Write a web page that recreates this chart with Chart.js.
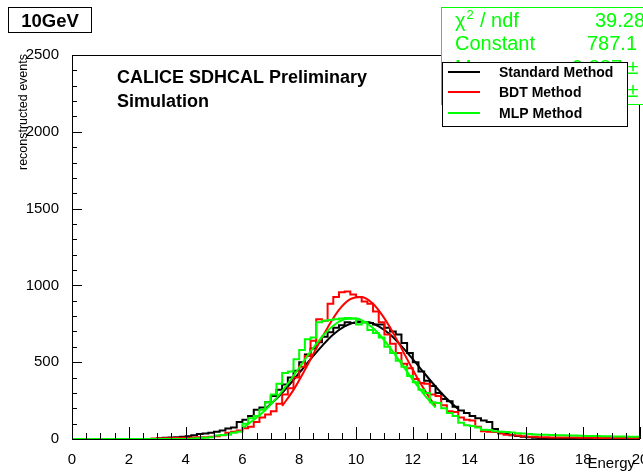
<!DOCTYPE html>
<html>
<head>
<meta charset="utf-8">
<script src="https://cdn.jsdelivr.net/npm/chart.js@4.4.0/dist/chart.umd.min.js"></script>
<style>
html, body { margin: 0; padding: 0; background: #fff; }
canvas { display: block; }
</style>
</head>
<body>
<canvas id="c" width="643" height="475"></canvas>
<script>
// histogram binning: 100 bins of 0.2 GeV from 0 to 20
const binStart = 0;
const binWidth = 0.2;

const standardCounts = [
  0, 0, 0, 0, 0, 0, 0, 0, 0, 0, 0, 0, 0, 0, 0, 0, 5, 8, 10, 12,
  15, 18, 25, 32, 35, 40, 48, 55, 68, 75, 110, 125, 150, 190, 205, 240, 280, 320, 355, 400,
  445, 500, 550, 590, 630, 665, 695, 725, 740, 760, 755, 765, 760, 755, 745, 745, 725, 700, 680, 625,
  560, 500, 440, 380, 345, 300, 260, 245, 210, 185, 170, 150, 135, 120, 110, 65, 45, 35, 25, 20,
  15, 12, 8, 6, 5, 4, 3, 3, 3, 2, 2, 2, 2, 1, 1, 1, 1, 1, 1, 1
];
const bdtCounts = [
  0, 0, 0, 0, 0, 0, 0, 0, 0, 0, 0, 0, 0, 0, 0, 3, 4, 5, 5, 6,
  8, 8, 10, 12, 12, 15, 18, 25, 40, 48, 55, 70, 80, 110, 140, 160, 180, 230, 290, 330,
  400, 470, 540, 640, 780, 770, 880, 925, 955, 960, 940, 925, 895, 880, 830, 760, 680, 620, 560, 490,
  460, 390, 365, 360, 290, 280, 220, 180, 175, 140, 125, 120, 80, 50, 48, 45, 35, 28, 26, 22,
  18, 15, 15, 12, 12, 10, 10, 10, 9, 9, 8, 8, 8, 7, 7, 7, 6, 6, 6, 6
];
const mlpCounts = [
  0, 0, 0, 0, 0, 0, 0, 0, 0, 0, 0, 0, 0, 0, 0, 0, 0, 0, 0, 0,
  0, 0, 3, 5, 8, 12, 22, 26, 28, 40, 48, 100, 135, 150, 190, 240, 290, 360, 430, 440,
  520, 580, 650, 660, 760, 770, 775, 780, 785, 787, 785, 745, 760, 710, 690, 660, 600, 560, 510, 470,
  410, 370, 320, 300, 240, 235, 200, 170, 150, 105, 90, 85, 75, 60, 58, 50, 48, 45, 42, 38,
  35, 32, 30, 28, 27, 26, 25, 24, 23, 22, 21, 20, 20, 19, 18, 18, 17, 16, 16, 15
];

// gaussian fit curves
const standardFitE = [6.8, 7.2, 7.6, 8.0, 8.4, 8.8, 9.2, 9.6, 10.0, 10.4, 10.8, 11.2, 11.6, 12.0, 12.4, 12.8, 13.2, 13.6];
const standardFitN = [195, 262, 342, 430, 520, 605, 680, 733, 760, 762, 733, 680, 605, 520, 430, 342, 262, 195];
const bdtFitE = [7.4, 7.8, 8.2, 8.6, 9.0, 9.4, 9.8, 10.2, 10.6, 11.0, 11.4, 11.8, 12.2, 12.6, 12.8];
const bdtFitN = [215, 320, 450, 590, 725, 840, 910, 925, 880, 785, 660, 520, 385, 265, 215];
const mlpFitE = [6.0, 6.4, 6.8, 7.2, 7.6, 8.0, 8.4, 8.8, 9.2, 9.6, 10.0, 10.4, 10.8, 11.2, 11.6, 12.0, 12.4, 12.8];
const mlpFitN = [70, 125, 187, 266, 360, 464, 569, 664, 737, 779, 784, 751, 685, 594, 490, 386, 289, 205];

const legendLabels = ['Standard Method', 'BDT Method', 'MLP Method'];
const statLabels = ['Constant', 'Mean', 'Sigma'];
const statValues = ['39.28 / 41', '787.1 \u00b1 8.3', '9.887 \u00b1 0.018', '1.816 \u00b1 0.013'];
const energyLabel = '10GeV';

const colStandard = '#000000';
const colBdt = '#ff0000';
const colMlp = '#00ff00';
const FONT = "'Liberation Sans', Arial, Helvetica, sans-serif";

function histPoints(counts) {
  const pts = counts.map((v, i) => ({ x: binStart + i * binWidth, y: v }));
  pts.push({ x: binStart + counts.length * binWidth, y: counts[counts.length - 1] });
  return pts;
}
function curvePoints(xs, ys) {
  return xs.map((x, i) => ({ x: x, y: ys[i] }));
}

const rootFrame = {
  id: 'rootFrame',
  afterDatasetsDraw(chart) {
    const { ctx, chartArea: a, scales: { x, y } } = chart;
    ctx.save();
    ctx.strokeStyle = '#000';
    ctx.lineWidth = 1;
    ctx.strokeRect(a.left + 0.5, a.top + 0.5, a.right - a.left - 1, a.bottom - a.top);
    ctx.beginPath();
    for (let k = 0; k <= 40; k++) {
      const px = Math.round(x.getPixelForValue(k * 0.5)) + 0.5;
      const len = k % 4 === 0 ? 12 : 6;
      ctx.moveTo(px, a.bottom);
      ctx.lineTo(px, a.bottom - len);
    }
    for (let k = 0; k <= 25; k++) {
      const py = Math.round(y.getPixelForValue(k * 100)) + 0.5;
      const len = k % 5 === 0 ? 10 : 5;
      ctx.moveTo(a.left, py);
      ctx.lineTo(a.left + len, py);
    }
    ctx.stroke();
    ctx.restore();
  },
  afterDraw(chart) {
    const ctx = chart.ctx;
    ctx.save();

    // axis titles
    ctx.fillStyle = '#000';
    ctx.font = '15px ' + FONT;
    ctx.textAlign = 'right';
    ctx.textBaseline = 'alphabetic';
    ctx.fillText('Energy', 635, 468);
    ctx.save();
    ctx.translate(27, 54);
    ctx.rotate(-Math.PI / 2);
    ctx.font = '12.5px ' + FONT;
    ctx.fillText('reconstructed events', 0, 0);
    ctx.restore();

    // energy box
    ctx.fillStyle = '#fff';
    ctx.fillRect(8.5, 7.5, 83, 25);
    ctx.strokeStyle = '#000';
    ctx.strokeRect(8.5, 7.5, 83, 25);
    ctx.fillStyle = '#000';
    ctx.font = 'bold 18.5px ' + FONT;
    ctx.textAlign = 'center';
    ctx.fillText(energyLabel, 50, 27);

    // preliminary text
    ctx.textAlign = 'left';
    ctx.font = 'bold 18px ' + FONT;
    ctx.fillText('CALICE SDHCAL Preliminary', 117, 83);
    ctx.fillText('Simulation', 117, 107);

    // fit statistics box
    ctx.fillStyle = '#fff';
    ctx.fillRect(441.5, 7.5, 300, 97);
    ctx.strokeStyle = colMlp;
    ctx.strokeRect(441.5, 7.5, 300, 97);
    ctx.fillStyle = colMlp;
    ctx.font = '20px ' + FONT;
    ctx.fillText('\u03c7', 455, 27);
    let w = ctx.measureText('\u03c7').width;
    ctx.font = '13px ' + FONT;
    ctx.fillText('2', 455 + w + 1, 19);
    ctx.font = '20px ' + FONT;
    ctx.fillText('/ ndf', 480, 27);
    const rowY = [27, 50, 74, 97];
    const valX = [595, 587, 572, 572];
    statLabels.forEach((t, i) => ctx.fillText(t, 455, rowY[i + 1]));
    statValues.forEach((t, i) => ctx.fillText(t, valX[i], rowY[i]));

    // legend
    ctx.fillStyle = '#fff';
    ctx.fillRect(442.5, 62.5, 185, 64);
    ctx.strokeStyle = '#000';
    ctx.lineWidth = 1;
    ctx.strokeRect(442.5, 62.5, 185, 64);
    const legY = [72, 92, 113];
    const legCol = [colStandard, colBdt, colMlp];
    ctx.font = 'bold 14px ' + FONT;
    legendLabels.forEach((t, i) => {
      ctx.strokeStyle = legCol[i];
      ctx.lineWidth = 2;
      ctx.beginPath();
      ctx.moveTo(448, legY[i]);
      ctx.lineTo(480, legY[i]);
      ctx.stroke();
      ctx.fillStyle = '#000';
      ctx.fillText(t, 499, legY[i] + 5);
    });
    ctx.restore();
  }
};

const histStyle = { borderWidth: 2, stepped: 'after', pointRadius: 0, fill: false, clip: false };
const fitStyle = { borderWidth: 2, tension: 0.4, cubicInterpolationMode: 'monotone', pointRadius: 0, fill: false };

new Chart(document.getElementById('c'), {
  type: 'line',
  data: {
    datasets: [
      Object.assign({ label: legendLabels[2], data: histPoints(mlpCounts), borderColor: colMlp, order: 0 }, histStyle),
      Object.assign({ label: 'MLP fit', data: curvePoints(mlpFitE, mlpFitN), borderColor: colMlp, order: 1 }, fitStyle),
      Object.assign({ label: legendLabels[1], data: histPoints(bdtCounts), borderColor: colBdt, order: 2 }, histStyle),
      Object.assign({ label: 'BDT fit', data: curvePoints(bdtFitE, bdtFitN), borderColor: colBdt, order: 3 }, fitStyle),
      Object.assign({ label: legendLabels[0], data: histPoints(standardCounts), borderColor: colStandard, order: 4 }, histStyle),
      Object.assign({ label: 'Standard fit', data: curvePoints(standardFitE, standardFitN), borderColor: colStandard, order: 5 }, fitStyle)
    ]
  },
  options: {
    responsive: false,
    animation: false,
    devicePixelRatio: 1,
    layout: { padding: { left: 0, top: 55, right: 3, bottom: 0 } },
    plugins: { legend: { display: false }, tooltip: { enabled: false } },
    scales: {
      x: {
        type: 'linear', min: 0, max: 20,
        grid: { display: false }, border: { display: false },
        ticks: { stepSize: 2, autoSkip: false, maxRotation: 0, color: '#000', padding: 4,
                 font: { family: FONT, size: 15 }, callback: v => String(v) },
        afterFit(s) { s.height = 36; s.paddingLeft = 0; s.paddingRight = 0; }
      },
      y: {
        type: 'linear', min: 0, max: 2500,
        grid: { display: false }, border: { display: false },
        ticks: { stepSize: 500, autoSkip: false, color: '#000', padding: 5,
                 font: { family: FONT, size: 15 }, callback: v => String(v) },
        afterFit(s) { s.width = 72; s.paddingTop = 0; s.paddingBottom = 0; }
      }
    }
  },
  plugins: [rootFrame]
});
</script>
</body>
</html>
